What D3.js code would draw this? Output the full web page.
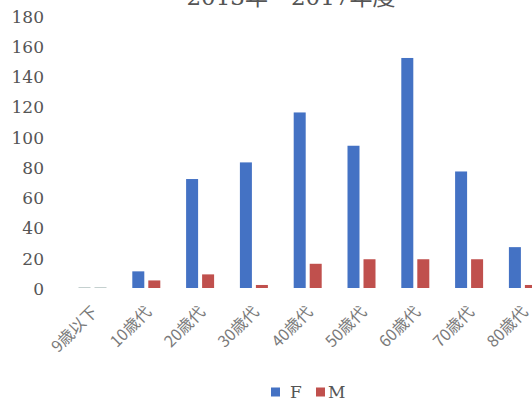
<!DOCTYPE html>
<html>
<head>
<meta charset="utf-8">
<script src="https://cdn.jsdelivr.net/npm/d3@7"></script>
<style>
  html, body { margin: 0; padding: 0; background: #fff; }
  svg { display: block; }
</style>
</head>
<body>
<svg id="chart" width="532" height="404"></svg>
<script>
// Age groups and counts per sex, fiscal 2013–2017
const categories = ["9歳以下", "10歳代", "20歳代", "30歳代", "40歳代", "50歳代", "60歳代", "70歳代", "80歳代"];
const seriesNames = ["F", "M"];
const valuesF = [0, 11, 72, 83, 116, 94, 152, 77, 27];
const valuesM = [0, 5, 9, 2, 16, 19, 19, 19, 2];
const yTicks = [0, 20, 40, 60, 80, 100, 120, 140, 160, 180];
const titleText = "2013年～2017年度";

const colors = { F: "#4472c4", M: "#c0504d" };
const svg = d3.select("#chart");

const rows = categories.map((c, i) => ({ cat: c, F: valuesF[i], M: valuesM[i] }));

const y = d3.scaleLinear().domain([0, 180]).range([288, 15.6]);
const x0 = d3.scaleBand().domain(categories).range([65.6, 549.8]).padding(0);
const x1 = d3.scaleBand().domain(seriesNames).range([-14, 14]).paddingInner(0.25).paddingOuter(0);

// Title (sits partly above the top edge)
svg.append("text")
  .attr("x", 291).attr("y", 5)
  .attr("text-anchor", "middle")
  .attr("font-family", "'DejaVu Serif', 'Noto Sans CJK JP', serif")
  .attr("font-size", 23)
  .attr("fill", "#555")
  .text(titleText);

// Y axis labels only
const yAxis = svg.append("g")
  .attr("transform", "translate(44,1)")
  .call(d3.axisLeft(y).tickValues(yTicks).tickSize(0).tickPadding(0));
yAxis.select(".domain").remove();
yAxis.selectAll("text")
  .attr("font-family", "'DejaVu Serif', serif")
  .attr("font-size", 17)
  .attr("fill", "#555");

// Bars
const groups = svg.append("g").selectAll("g")
  .data(rows)
  .join("g")
  .attr("transform", d => `translate(${x0(d.cat) + x0.bandwidth() / 2},0)`);

groups.selectAll("rect.bar")
  .data(d => seriesNames.map(k => ({ key: k, value: d[k] })))
  .join("rect")
  .attr("class", "bar")
  .attr("x", d => x1(d.key))
  .attr("width", x1.bandwidth())
  .attr("y", d => d.value > 0 ? y(d.value) : y(0) - 1)
  .attr("height", d => d.value > 0 ? y(0) - y(d.value) : 1)
  .attr("fill", d => d.value > 0 ? colors[d.key] : "#c4d0cf");

// Rotated category labels
const xAxis = svg.append("g")
  .attr("transform", "translate(0,309)")
  .call(d3.axisBottom(x0).tickSize(0).tickPadding(0));
xAxis.select(".domain").remove();
xAxis.selectAll("text")
  .attr("font-family", "'Noto Sans CJK JP', sans-serif")
  .attr("font-size", 16)
  .attr("fill", "#7a7a7a")
  .attr("text-anchor", "end")
  .attr("dy", "0.35em")
  .attr("transform", "translate(2,0) rotate(-45)");

// Legend
const legend = svg.append("g").attr("transform", "translate(0,392)");
const legendItems = [{ key: "F", x: 271, tx: 290 }, { key: "M", x: 316, tx: 328 }];
legendItems.forEach(it => {
  legend.append("rect")
    .attr("x", it.x).attr("y", -4.5)
    .attr("width", 9).attr("height", 9)
    .attr("fill", colors[it.key]);
  legend.append("text")
    .attr("x", it.tx).attr("y", 6)
    .attr("font-family", "'DejaVu Serif', serif")
    .attr("font-size", 17)
    .attr("fill", "#555")
    .text(it.key);
});
</script>
</body>
</html>
